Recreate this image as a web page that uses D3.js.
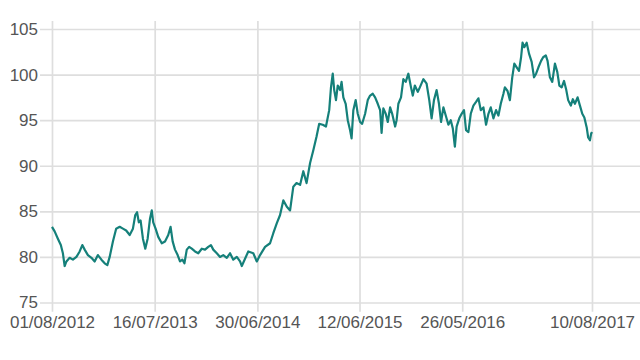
<!DOCTYPE html>
<head>
  <meta charset="utf-8">
  <title>Index 2012-2017</title>
  <script src="https://d3js.org/d3.v7.min.js"></script>
  <style>
    body {
      margin: 0px;
      background: #fff;
    }
    .axis text {
      font-family: "Liberation Sans", Arial, sans-serif;
      font-size: 17px;
      fill: #555;
    }
    .axis line {
      stroke: #dedede;
      stroke-width: 1.7;
    }
    .axis path.domain {
      display: none;
    }
    .series {
      fill: none;
      stroke: #15807a;
      stroke-width: 2.2;
      stroke-linejoin: round;
    }
  </style>
</head>

<body>
  <svg width="640" height="360"></svg>

  <script>
    // first day of the series, other points are stored as day offsets from it
    var startDate = "2012-08-01";
    var dayOffsets = [
      0, 9, 20, 30, 37, 43, 49, 60, 71, 83, 94, 103, 111, 122, 134, 145, 156, 168, 179, 188,
      196, 207, 218, 230, 241, 252, 264, 275, 283, 289, 295, 301, 309, 317, 325, 333, 339, 344, 352, 361,
      373, 384, 395, 403, 410, 418, 427, 435, 443, 450, 458, 466, 475, 486, 497, 509, 520, 531, 540, 548,
      560, 571, 582, 594, 605, 616, 628, 639, 645, 667, 684, 696, 707, 724, 741, 752, 764, 775, 786, 798,
      809, 820, 831, 843, 854, 865, 877, 888, 899, 908, 920, 931, 942, 948, 954, 959, 965, 971, 979, 984,
      990, 998, 1005, 1013, 1018, 1024, 1032, 1039, 1047, 1054, 1064, 1073, 1081, 1090, 1098, 1107, 1115, 1120, 1126, 1134,
      1141, 1149, 1156, 1166, 1171, 1177, 1186, 1194, 1202, 1211, 1220, 1226, 1233, 1243, 1250, 1262, 1273, 1282, 1290, 1298,
      1307, 1315, 1322, 1330, 1339, 1347, 1355, 1362, 1369, 1375, 1384, 1392, 1400, 1407, 1415, 1423, 1432, 1441, 1449, 1457,
      1466, 1475, 1483, 1491, 1500, 1509, 1517, 1525, 1534, 1539, 1548, 1556, 1564, 1571, 1579, 1587, 1594, 1599, 1605, 1613,
      1621, 1630, 1638, 1645, 1653, 1662, 1669, 1678, 1684, 1692, 1700, 1709, 1717, 1724, 1732, 1740, 1747, 1754, 1763, 1770,
      1777, 1786, 1794, 1802, 1809, 1817, 1822, 1828, 1832, 1835
    ];
    var values = [
      83.3, 82.8, 82.0, 81.3, 80.4, 79.0, 79.5, 79.9, 79.7, 80.0, 80.6, 81.3, 80.8, 80.2, 79.9, 79.5, 80.2, 79.7, 79.3, 79.1,
      80.0, 81.7, 83.1, 83.3, 83.1, 82.9, 82.4, 83.1, 84.6, 84.9, 83.8, 84.0, 82.0, 80.9, 82.0, 84.2, 85.1, 83.8, 83.1, 82.2,
      81.5, 81.7, 82.4, 83.3, 81.7, 80.8, 80.2, 79.5, 79.7, 79.3, 80.8, 81.1, 80.9, 80.6, 80.4, 80.9, 80.8, 81.1, 81.3, 80.8,
      80.4, 80.0, 80.2, 79.9, 80.4, 79.7, 80.0, 79.5, 79.0, 80.6, 80.4, 79.5, 80.2, 81.1, 81.5, 82.6, 83.7, 84.6, 86.2, 85.5,
      85.1, 87.7, 88.1, 87.9, 89.4, 88.1, 90.3, 91.7, 93.2, 94.6, 94.5, 94.3, 96.1, 98.6, 100.1, 98.3, 97.2, 98.8, 98.3, 99.2,
      97.5, 96.8, 95.0, 93.9, 93.0, 96.1, 97.2, 95.7, 94.8, 94.6, 95.7, 97.2, 97.7, 97.9, 97.5, 96.8, 96.1, 93.6, 96.3, 95.7,
      94.8, 96.4, 95.7, 94.3, 95.0, 96.8, 97.5, 99.5, 99.2, 100.1, 98.6, 97.7, 98.8, 98.1, 98.6, 99.5, 99.0, 97.2, 95.2, 97.2,
      98.3, 96.8, 94.8, 96.4, 95.4, 94.5, 95.0, 94.1, 92.1, 94.3, 95.2, 95.7, 96.1, 93.9, 93.7, 95.7, 96.6, 97.0, 97.4, 96.1,
      96.4, 94.5, 95.7, 96.4, 95.2, 96.1, 95.5, 96.8, 97.9, 98.6, 98.2, 97.2, 99.7, 101.2, 100.8, 100.4, 101.9, 103.5, 103.0, 103.5,
      102.3, 101.4, 99.7, 100.1, 100.8, 101.5, 101.9, 102.1, 101.5, 99.7, 99.2, 101.2, 100.3, 98.8, 98.6, 99.3, 98.4, 97.2, 96.6, 97.3,
      96.8, 97.5, 96.6, 95.7, 95.3, 94.2, 93.1, 92.8, 93.5, 93.7
    ];
    var yTicks = [75, 80, 85, 90, 95, 100, 105];
    var xTicks = ["2012-08-01", "2013-07-16", "2014-06-30", "2015-06-12", "2016-05-26", "2017-08-10"];

    var svg = d3.select("svg");
    var plot = { "left": 52, "right": 592, "top": 29, "bottom": 302.5 };
    var grid = { "top": 21, "bottom": 311.7, "left": 40, "right": 640 };

    var parse = d3.timeParse("%Y-%m-%d");
    var start = parse(startDate);
    var data = dayOffsets.map(function(d, i) {
      return { date: d3.timeDay.offset(start, d), value: values[i] };
    });

    var x = d3.scaleTime()
      .domain([start, parse(xTicks[xTicks.length - 1])])
      .range([plot.left, plot.right]);
    var y = d3.scaleLinear()
      .domain([75, 105])
      .range([plot.bottom, plot.top]);

    // y gridlines with labels
    svg.append("g")
      .attr("class", "axis")
      .attr("transform", translate(grid.left, 0))
      .call(d3.axisLeft(y)
        .tickValues(yTicks)
        .tickSize(-(grid.right - grid.left))
        .tickPadding(2));

    // x gridlines with labels
    svg.append("g")
      .attr("class", "axis")
      .attr("transform", translate(0, grid.bottom))
      .call(d3.axisBottom(x)
        .tickValues(xTicks.map(parse))
        .tickFormat(d3.timeFormat("%d/%m/%Y"))
        .tickSize(-(grid.bottom - grid.top))
        .tickPadding(4));

    var line = d3.line()
      .x(function(d) { return x(d.date); })
      .y(function(d) { return y(d.value); });

    svg.append("path")
      .datum(data)
      .attr("class", "series")
      .attr("d", line);

    function translate(x, y) {
      return "translate(" + String(x) + "," + String(y) + ")";
    }
  </script>
</body>
</html>
